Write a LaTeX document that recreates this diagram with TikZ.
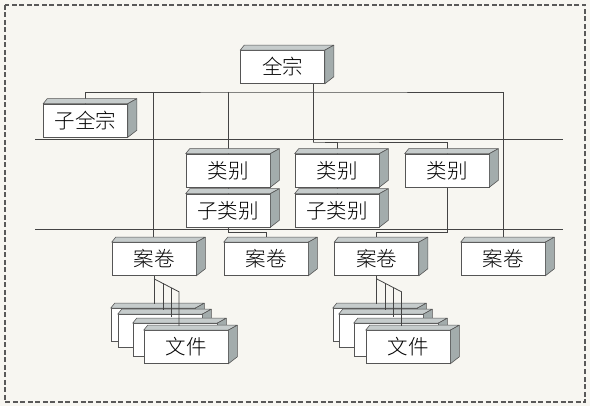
\documentclass[tikz,border=0pt]{standalone}
\usepackage{fontspec}
\newfontfamily\cjk{Noto Sans CJK SC}[UprightFont={* Light}]
\usetikzlibrary{calc}
\definecolor{bgpaper}{HTML}{F7F6F1}
\definecolor{edgegray}{HTML}{555555}
\definecolor{linegray}{HTML}{444444}
\definecolor{topgray}{HTML}{C6CCCC}
\definecolor{sidegray}{HTML}{A3ACAC}
\tikzset{
    cube/.style={draw=edgegray, fill=white, line width=0.6pt, minimum width=84pt, minimum height=33pt, inner sep=0pt, font=\cjk\fontsize{20.5}{20.5}\selectfont},
    topface/.style={draw=edgegray, fill=topgray, line width=0.6pt, line join=round},
    sideface/.style={draw=edgegray, fill=sidegray, line width=0.6pt, line join=round},
    conn/.style={draw=linegray, line width=0.8pt},
    frame/.style={draw=black!65, line width=1.2pt, dash pattern=on 5pt off 2.5pt}
}
% top and right faces of a box
\newcommand{\boxdepth}[1]{%
    \filldraw[topface] (#1.north west) -- ++(4,-5) -- ($(#1.north east)+(9,-5)$) -- (#1.north east) -- cycle;
    \filldraw[sideface] (#1.north east) -- ++(9,-5) -- ($(#1.south east)+(9,-7)$) -- (#1.south east) -- cycle;}

\begin{document}
\begin{tikzpicture}[x=1pt, y=-1pt]
    \fill[bgpaper] (0,0) rectangle (590,406);
    \useasboundingbox (0,0) rectangle (590,406);
    \draw[frame] (5,5) rectangle (585,402);

    % separators
    \coordinate (sepa) at (35,139); \coordinate (sepb) at (563,139);
    \coordinate (sepc) at (35,229); \coordinate (sepd) at (563,229);
    \draw[conn] (sepa) -- (sepb);
    \draw[conn] (sepc) -- (sepd);

    % node places (front faces)
    \path
        (282.5,67) coordinate (pqz)
        (85.5,120.5) coordinate (pzqz)
        (228,170.5) coordinate (plb1)
        (228,210.5) coordinate (pzlb1)
        (337,170.5) coordinate (plb2)
        (337,210.5) coordinate (pzlb2)
        (447,170.5) coordinate (plb3)
        (154,259) coordinate (paj1)
        (266,259) coordinate (paj2)
        (376.5,259) coordinate (paj3)
        (503,259) coordinate (paj4);

    \coordinate (j1) at (313,92);
    \coordinate (j2) at (313,142);

    % connectors under the boxes
    \draw[conn] (pqz |- 0,83) -| (j2);
    \draw[conn] ($(pzqz)+(0,-16.5)$) |- (j1) -| ($(paj4)+(0,-16.5)$);
    \draw[conn] (j1 -| 153,0) -- (153,242.5);
    \draw[conn] (j1 -| plb1) -- (plb1);
    \draw[conn] (plb2) |- (j2) -| (plb3);
    \draw[conn] (plb1) -- (pzlb1);
    \draw[conn] (plb2) -- (pzlb2);
    \draw[conn] (pzlb1) -- ++(0,21.5) -| (paj2);
    \draw[conn] (plb3) -- ++(0,61.5) -| (paj3);

    % boxes
    \node[cube] (qz) at (pqz) {全宗}; \boxdepth{qz}
    \node[cube] (zqz) at (pzqz) {子全宗}; \boxdepth{zqz}
    \node[cube] (lb1) at (plb1) {类别}; \boxdepth{lb1}
    \node[cube] (zlb1) at (pzlb1) {子类别}; \boxdepth{zlb1}
    \node[cube] (lb2) at (plb2) {类别}; \boxdepth{lb2}
    \node[cube] (zlb2) at (pzlb2) {子类别}; \boxdepth{zlb2}
    \node[cube] (lb3) at (plb3) {类别}; \boxdepth{lb3}
    \node[cube] (aj1) at (paj1) {案卷}; \boxdepth{aj1}
    \node[cube] (aj2) at (paj2) {案卷}; \boxdepth{aj2}
    \node[cube] (aj3) at (paj3) {案卷}; \boxdepth{aj3}
    \node[cube] (aj4) at (paj4) {案卷}; \boxdepth{aj4}

    % file stacks
    \node[cube] (wj1a) at (153,325) {}; \boxdepth{wj1a}
    \node[cube] (wj1b) at (160,331) {}; \boxdepth{wj1b}
    \node[cube] (wj1c) at (175,340) {}; \boxdepth{wj1c}
    \node[cube] (wj1d) at (186,347) {文件}; \boxdepth{wj1d}
    \node[cube] (wj2a) at (375,325) {}; \boxdepth{wj2a}
    \node[cube] (wj2b) at (381,331) {}; \boxdepth{wj2b}
    \node[cube] (wj2c) at (396,340) {}; \boxdepth{wj2c}
    \node[cube] (wj2d) at (408,347) {文件}; \boxdepth{wj2d}

    % fan lines to the files
    \coordinate (f1) at ($(aj1.south)+(0,3)$);
    \draw[conn] (aj1.south) -- ++(0,28);
    \draw[conn] (f1) -- ++(25,13) -- ++(0,34);
    \draw[conn] ($(f1)+(9,4.7)$) -- ++(0,26.3);
    \draw[conn] ($(f1)+(17,8.8)$) -- ++(0,29.2);
    \coordinate (f2) at ($(aj3.south)+(0,3)$);
    \draw[conn] (aj3.south) -- ++(0,28);
    \draw[conn] (f2) -- ++(25,13) -- ++(0,34);
    \draw[conn] ($(f2)+(9,4.7)$) -- ++(0,26.3);
    \draw[conn] ($(f2)+(17,8.8)$) -- ++(0,29.2);
\end{tikzpicture}
\end{document}
